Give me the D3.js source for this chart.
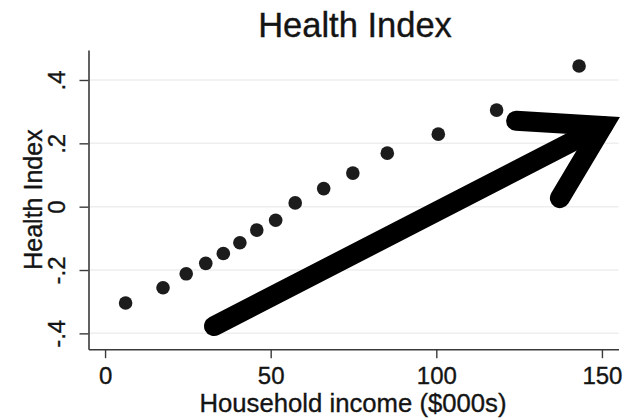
<!DOCTYPE html>
<html>
<head>
<meta charset="utf-8">
<script src="https://cdn.jsdelivr.net/npm/d3@7"></script>
<style>
  html, body { margin: 0; padding: 0; background: #fff; }
  svg { display: block; font-family: "Liberation Sans", Arial, Helvetica, sans-serif; }
  svg text { stroke: #141414; stroke-width: 0.35px; }
</style>
</head>
<body>
<svg id="chart" width="627" height="418"></svg>
<script>
// Binned scatter: household income ($000s) vs. mean health index
const income = [6.2, 17.5, 24.5, 30.4, 35.7, 40.7, 45.8, 51.5, 57.4, 66.0, 74.8, 85.2, 100.6, 118.2, 143.1];
const health = [-0.304, -0.256, -0.212, -0.179, -0.148, -0.114, -0.074, -0.043, 0.012, 0.057, 0.106, 0.169, 0.229, 0.305, 0.444];

const xTicks = [0, 50, 100, 150];
const yTicks = [-0.4, -0.2, 0, 0.2, 0.4];
const yTickLabels = ["-.4", "-.2", "0", ".2", ".4"];

// Trend arrow annotation, in data units: shaft start, tip, and the two barb ends
const arrowShaft = [[32.9, -0.377], [150.3, 0.255]];
const arrowHead = [[124.1, 0.271], [150.3, 0.255], [137.3, 0.027]];

const svg = d3.select("#chart");

const x = d3.scaleLinear().domain([-5, 155]).range([88.5, 618.5]);
const y = d3.scaleLinear().domain([-0.45, 0.495]).range([349.2, 49.9]);

const textColor = "#141414";
const axisColor = "#3a3a3a";

// Horizontal grid lines
svg.append("g")
  .selectAll("line")
  .data(yTicks)
  .join("line")
  .attr("x1", x.range()[0])
  .attr("x2", x.range()[1])
  .attr("y1", d => y(d))
  .attr("y2", d => y(d))
  .attr("stroke", "#eeeeee")
  .attr("stroke-width", 1.5);

// X axis
const xAxis = svg.append("g")
  .attr("transform", `translate(0,${y.range()[0]})`)
  .call(d3.axisBottom(x).tickValues(xTicks).tickSize(9).tickSizeOuter(0).tickFormat(d3.format("d")));
xAxis.select(".domain").attr("stroke", axisColor).attr("stroke-width", 1.6);
xAxis.selectAll(".tick line").attr("stroke", axisColor).attr("stroke-width", 1.4);
xAxis.selectAll(".tick text")
  .attr("y", 34.5).attr("dy", 0)
  .attr("fill", textColor)
  .style("font-size", "24px");

// Y axis with rotated labels
const yAxis = svg.append("g")
  .attr("transform", `translate(${x.range()[0]},0)`)
  .call(d3.axisLeft(y).tickValues(yTicks).tickSize(9).tickSizeOuter(0)
    .tickFormat((d, i) => yTickLabels[i]));
yAxis.select(".domain").attr("stroke", axisColor).attr("stroke-width", 1.6);
yAxis.selectAll(".tick line").attr("stroke", axisColor).attr("stroke-width", 1.4);
yAxis.selectAll(".tick text")
  .attr("transform", "rotate(-90)")
  .attr("x", 0).attr("y", -23.5).attr("dy", 0)
  .attr("text-anchor", "middle")
  .attr("fill", textColor)
  .style("font-size", "24px");

// Points
svg.append("g")
  .selectAll("circle")
  .data(income.map((v, i) => [v, health[i]]))
  .join("circle")
  .attr("cx", d => x(d[0]))
  .attr("cy", d => y(d[1]))
  .attr("r", 6.8)
  .attr("fill", "#1c1c1c");

// Arrow
const line = d3.line().x(d => x(d[0])).y(d => y(d[1]));
const arrow = svg.append("g")
  .attr("fill", "none")
  .attr("stroke", "#000")
  .attr("stroke-width", 20)
  .attr("stroke-linecap", "round")
  .attr("stroke-linejoin", "miter");
arrow.append("path").attr("d", line(arrowShaft));
arrow.append("path").attr("d", line(arrowHead));

// Titles
svg.append("text")
  .attr("x", 355).attr("y", 36.5)
  .attr("text-anchor", "middle")
  .attr("fill", textColor)
  .style("font-size", "34.5px")
  .text("Health Index");

svg.append("text")
  .attr("x", 353).attr("y", 411.5)
  .attr("text-anchor", "middle")
  .attr("fill", textColor)
  .style("font-size", "25.7px")
  .text("Household income ($000s)");

svg.append("text")
  .attr("transform", `translate(41.5,${(y.range()[0] + y.range()[1]) / 2}) rotate(-90)`)
  .attr("text-anchor", "middle")
  .attr("fill", textColor)
  .style("font-size", "25px")
  .text("Health Index");
</script>
</body>
</html>
